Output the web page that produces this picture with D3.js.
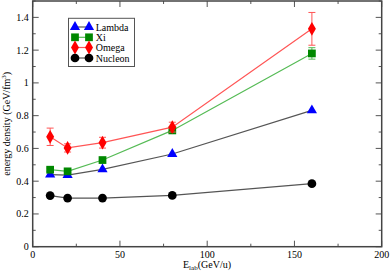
<!DOCTYPE html>
<html><head><meta charset="utf-8">
<script src="https://cdn.jsdelivr.net/npm/d3@7"></script>
<style>body{margin:0;background:#fff}svg{display:block}text{font-family:"Liberation Serif","Times New Roman",serif}</style>
</head><body>
<script>
const energies = [10, 20, 40, 80, 160];
const lambdaVals = [0.44, 0.437, 0.472, 0.566, 0.832];
const xiVals = [0.47, 0.46, 0.529, 0.71, 1.18];
const xiErr = [0.01, 0.01, 0.01, 0.015, 0.035];
const omegaVals = [0.671, 0.603, 0.635, 0.73, 1.33];
const omegaErr = [0.053, 0.025, 0.033, 0.03, 0.1];
const nucleonVals = [0.312, 0.297, 0.297, 0.313, 0.385];
const xTicks = [0, 50, 100, 150, 200];
const yTicks = [0, 0.2, 0.4, 0.6, 0.8, 1, 1.2, 1.4];

const series = [
  {name:"Lambda", vals:lambdaVals, err:null, line:"#555", fill:"#0000ff", sym:d3.symbolTriangle},
  {name:"Xi", vals:xiVals, err:xiErr, line:"#55bb55", fill:"#008800", sym:d3.symbolSquare},
  {name:"Omega", vals:omegaVals, err:omegaErr, line:"#ff5555", fill:"#ff0000", sym:d3.symbolDiamond},
  {name:"Nucleon", vals:nucleonVals, err:null, line:"#555", fill:"#000000", sym:d3.symbolCircle}
];

const W=390,H=272;
const m={l:32.7,r:8.3,t:1,b:25.3};
const svg=d3.select("body").append("svg").attr("width",W).attr("height",H);
const x=d3.scaleLinear().domain([0,200]).range([m.l,W-m.r]);
const y=d3.scaleLinear().domain([0,1.5]).range([H-m.b,m.t]);

const g=svg.append("g");
const minorX=d3.range(0,201,25), minorY=d3.range(0,1.51,0.1);
minorX.forEach(v=>{
  const major = v%50===0;
  const L = major?6:3;
  g.append("line").attr("x1",x(v)).attr("x2",x(v)).attr("y1",y(0)).attr("y2",y(0)-L).attr("stroke","#555");
  g.append("line").attr("x1",x(v)).attr("x2",x(v)).attr("y1",y(1.5)).attr("y2",y(1.5)+L).attr("stroke","#555");
});
minorY.forEach((v,i)=>{
  const major = i%2===0;
  const L = major?6:3;
  g.append("line").attr("x1",x(0)).attr("x2",x(0)+L).attr("y1",y(v)).attr("y2",y(v)).attr("stroke","#555");
  g.append("line").attr("x1",x(200)).attr("x2",x(200)-L).attr("y1",y(v)).attr("y2",y(v)).attr("stroke","#555");
});
svg.append("rect").attr("x",x(0)).attr("y",y(1.5)).attr("width",x(200)-x(0)).attr("height",y(0)-y(1.5))
  .attr("fill","none").attr("stroke","#444").attr("stroke-width",1.5);

const fmtY=v=> v===0?"0":(v===1?"1":d3.format(".1f")(v));
xTicks.forEach(v=>svg.append("text").attr("x",x(v)).attr("y",y(0)+11).attr("text-anchor","middle").attr("font-size",10).text(v));
yTicks.forEach(v=>svg.append("text").attr("x",x(0)-4).attr("y",y(v)+3.5).attr("text-anchor","end").attr("font-size",10).text(fmtY(v)));

const xl=svg.append("text").attr("x",207).attr("y",268).attr("text-anchor","middle").attr("font-size",10);
xl.append("tspan").text("E");
xl.append("tspan").attr("font-size",7).attr("dy",2).text("lab");
xl.append("tspan").attr("dy",-2).text("(GeV/u)");

const yl=svg.append("text").attr("transform",`translate(10,${y(0.75)}) rotate(-90)`).attr("text-anchor","middle").attr("font-size",10);
yl.append("tspan").text("energy density (GeV/fm");
yl.append("tspan").attr("font-size",7).attr("dy",-4).text("3");
yl.append("tspan").attr("dy",4).text(")");

const line=d3.line().x((d,i)=>x(energies[i])).y(d=>y(d));
const symSize=s=> s.sym===d3.symbolDiamond?55:(s.sym===d3.symbolTriangle?45:60);
series.forEach(s=>{
  svg.append("path").datum(s.vals).attr("d",line).attr("fill","none").attr("stroke",s.line).attr("stroke-width",1.2);
  if(s.err){
    s.vals.forEach((v,i)=>{
      const xx=x(energies[i]);
      svg.append("line").attr("x1",xx).attr("x2",xx).attr("y1",y(v-s.err[i])).attr("y2",y(v+s.err[i])).attr("stroke",s.line);
      [v-s.err[i],v+s.err[i]].forEach(e=>svg.append("line").attr("x1",xx-3.5).attr("x2",xx+3.5).attr("y1",y(e)).attr("y2",y(e)).attr("stroke",s.line));
    });
  }
  const sym=d3.symbol().type(s.sym).size(symSize(s));
  s.vals.forEach((v,i)=>{
    svg.append("path").attr("d",sym()).attr("transform",`translate(${x(energies[i])},${y(v)})`).attr("fill",s.fill);
  });
});

const lg=svg.append("g");
lg.append("rect").attr("x",68.5).attr("y",18.3).attr("width",66).attr("height",48.2).attr("fill","#fff").attr("stroke","#555").attr("stroke-width",1);
const rowsY=[27,37.3,47.5,58];
series.forEach((s,i)=>{
  const yy=rowsY[i];
  lg.append("line").attr("x1",75).attr("x2",89).attr("y1",yy).attr("y2",yy).attr("stroke",s.line).attr("stroke-width",1.2);
  const sym=d3.symbol().type(s.sym).size(symSize(s));
  [75,89].forEach(xx=>lg.append("path").attr("d",sym()).attr("transform",`translate(${xx},${yy})`).attr("fill",s.fill));
  lg.append("text").attr("x",95.7).attr("y",yy+3.5).attr("font-size",10).text(s.name);
});
</script>
</body></html>
